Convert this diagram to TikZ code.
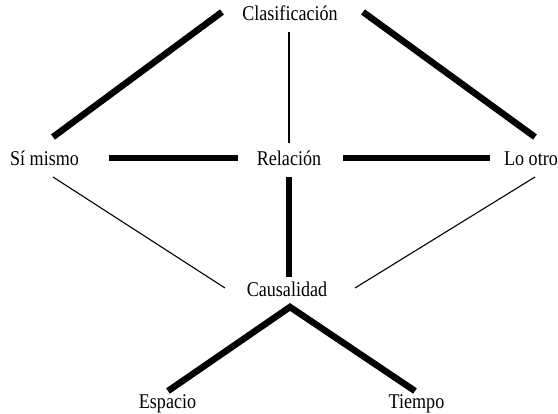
\documentclass[tikz,border=0pt]{standalone}
\usepackage{fontspec}
\setmainfont[FakeStretch=0.86]{Liberation Serif}
\begin{document}
\begin{tikzpicture}[x=1pt,y=-1pt,
  lbl/.style={inner sep=0pt,anchor=base,font=\fontsize{21pt}{25pt}\selectfont},
  thick link/.style={line width=6.5pt,line cap=butt,line join=miter},
  thin link/.style={line width=1.1pt,line cap=butt}]
\clip (0,0) rectangle (558,414);
\fill[white] (0,0) rectangle (558,414);
% labels
\node[lbl] (clas) at (290,21) {Clasificación};
\node[lbl] (si)   at (44.5,166) {Sí mismo};
\node[lbl] (rel)  at (289,166) {Relación};
\node[lbl] (lo)   at (531,166) {Lo otro};
\node[lbl] (caus) at (287,297) {Causalidad};
\node[lbl] (esp)  at (167.5,409) {Espacio};
\node[lbl] (tie)  at (416.5,409) {Tiempo};
% connector end points
\coordinate (clasL) at (222,12);   \coordinate (siT)   at (53,137);
\coordinate (clasR) at (363,12);   \coordinate (loT)   at (535,137);
\coordinate (clasB) at (289,32);   \coordinate (relT)  at (289,143);
\coordinate (siR)   at (109,158);  \coordinate (relL)  at (238,158);
\coordinate (relR)  at (343,158);  \coordinate (loL)   at (490,158);
\coordinate (relB)  at (289,177);  \coordinate (causT) at (289,277);
\coordinate (siB)   at (53,177);   \coordinate (causL) at (225,288);
\coordinate (loB)   at (535,177);  \coordinate (causR) at (355,288);
\coordinate (causB) at (290,307);
\coordinate (espT)  at (168,391);  \coordinate (tieT)  at (415,391);
% connectors
\draw[thick link] (clasL) -- (siT);
\draw[thick link] (clasR) -- (loT);
\draw[thin link]  (clasB) -- (relT);
\draw[thick link] (siR) -- (relL);
\draw[thick link] (relR) -- (loL);
\draw[thick link] (relB) -- (causT);
\draw[thin link]  (siB) -- (causL);
\draw[thin link]  (loB) -- (causR);
\draw[thick link] (espT) -- (causB) -- (tieT);
\end{tikzpicture}
\end{document}
